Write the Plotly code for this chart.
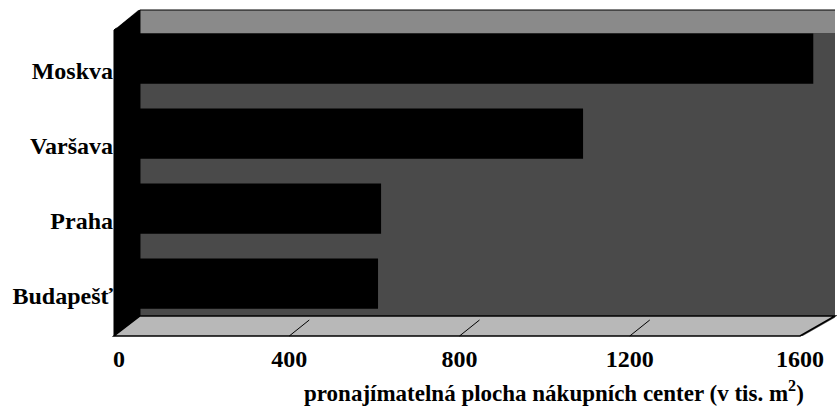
import plotly.graph_objects as go

# ---- data ----
categories = ["Budapešť", "Praha", "Varšava", "Moskva"]
values = [548, 555, 1020, 1550]
x_ticks = [0, 400, 800, 1200, 1600]
x_tick_labels = ["0", "400", "800", "1200", "1600"]
x_title = "pronajímatelná plocha nákupních center (v tis. m<sup>2</sup>)"

W, H = 837, 412
L, R, T, B = 117, 835, 10, 336  # plot area in pixels

# back wall plane: 0 at 140 px, 1600 at 835 px ; front edge: 0 at 119 px, 1600 at 800 px
BACK0, BACK1600 = 140, 835
FRONT0, FRONT1600 = 119, 800


def px(x):
    return (x - L) / (R - L)


def py(y):
    return (B - y) / (B - T)


def path(points):
    return "M " + " L ".join(f"{px(x):.4f},{py(y):.4f}" for x, y in points) + " Z"


def axis_range(p0, p1600):
    k = (p1600 - p0) / 1600.0
    return [(L - p0) / k, (R - p0) / k]


FONT = "Liberation Serif"

fig = go.Figure()
# invisible helper so that the front (label) axis is rendered
fig.add_trace(
    go.Scatter(
        x=x_ticks,
        y=[categories[0]] * len(x_ticks),
        mode="markers",
        marker=dict(opacity=0, size=1),
        hoverinfo="skip",
        showlegend=False,
        xaxis="x",
        yaxis="y",
    )
)
fig.add_trace(
    go.Bar(
        y=categories,
        x=values,
        orientation="h",
        width=0.67,
        marker=dict(color="black", line=dict(width=0)),
        hoverinfo="x+y",
        xaxis="x2",
        yaxis="y",
    )
)

shapes = [
    # lighter top strip of back wall
    dict(type="path", path=path([(140, 10), (835, 10), (835, 33), (140, 33)]),
         xref="paper", yref="paper", fillcolor="#8a8a8a", line=dict(width=0), layer="below"),
    # left side wall (black)
    dict(type="path", path=path([(114, 336), (140, 316), (140, 10), (114, 30)]),
         xref="paper", yref="paper", fillcolor="black", line=dict(color="black", width=1), layer="below"),
    # white corner top-left
    dict(type="path", path=path([(116.5, 9.5), (139, 9.5), (116.5, 28)]),
         xref="paper", yref="paper", fillcolor="white", line=dict(width=0), layer="below"),
    # floor
    dict(type="path", path=path([(114, 336), (800, 336), (835, 316), (140, 316)]),
         xref="paper", yref="paper", fillcolor="#b8b8b8", line=dict(color="black", width=1.5), layer="below"),
    # white corner bottom-right
    dict(type="path", path=path([(801, 337), (836, 337), (836, 317)]),
         xref="paper", yref="paper", fillcolor="white", line=dict(width=0), layer="below"),
    # top edge
    dict(type="line", x0=px(140), x1=px(835), y0=py(10), y1=py(10),
         xref="paper", yref="paper", line=dict(color="black", width=1)),
]
# small diagonal marks on the floor at 400/800/1200
for v in (400, 800, 1200):
    fx = FRONT0 + (FRONT1600 - FRONT0) * v / 1600
    shapes.append(dict(type="line", x0=px(fx), x1=px(fx + 20), y0=py(336), y1=py(320),
                       xref="paper", yref="paper", line=dict(color="black", width=1), layer="below"))

fig.update_layout(
    width=W,
    height=H,
    margin=dict(l=L, r=W - R, t=T, b=H - B, pad=0),
    paper_bgcolor="white",
    plot_bgcolor="#4a4a4a",
    showlegend=False,
    shapes=shapes,
    # value labels along the front edge of the floor
    xaxis=dict(
        range=axis_range(FRONT0, FRONT1600),
        tickmode="array",
        tickvals=x_ticks,
        ticktext=x_tick_labels,
        showgrid=False,
        zeroline=False,
        showline=False,
        ticks="outside",
        ticklen=1,
        tickcolor="rgba(0,0,0,0)",
        tickfont=dict(family=FONT, size=24, color="black", weight="bold"),
        fixedrange=True,
    ),
    # bars drawn against the back-wall plane
    xaxis2=dict(
        overlaying="x",
        anchor="y",
        side="bottom",
        range=axis_range(BACK0, BACK1600),
        showticklabels=False,
        showgrid=False,
        zeroline=False,
        showline=False,
        ticks="",
        fixedrange=True,
    ),
    yaxis=dict(
        range=[-0.70, 3.647],
        showgrid=False,
        zeroline=False,
        showline=False,
        ticks="",
        ticklabelstandoff=3,
        ticklabelshift=12,
        tickfont=dict(family=FONT, size=24, color="black", weight="bold"),
        fixedrange=True,
    ),
    annotations=[
        dict(
            text=x_title,
            xref="paper", yref="paper",
            x=px(806), y=py(391),
            xanchor="right", yanchor="middle",
            showarrow=False,
            font=dict(family=FONT, size=23, color="black", weight="bold"),
        )
    ],
)

fig.write_html("out.html")
